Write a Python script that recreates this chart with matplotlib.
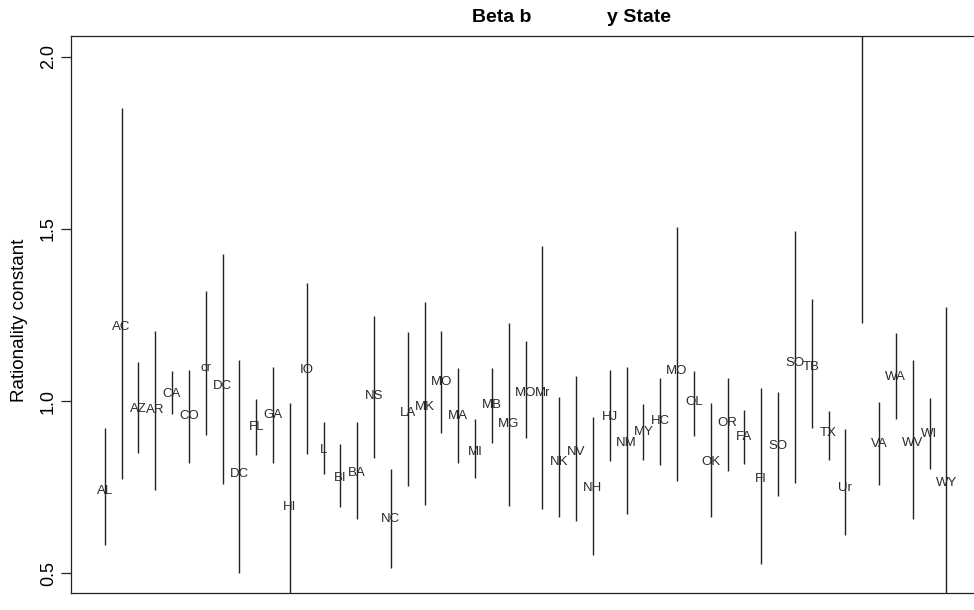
import matplotlib
matplotlib.use("Agg")
import matplotlib.pyplot as plt
import numpy as np

plt.rcParams['font.family'] = ['Liberation Sans', 'DejaVu Sans']

# state labels as printed in the chart (one entry has no visible label)
states = ["AL", "AC", "AZ", "AR", "CA", "CO", "cr", "DC", "DC", "FL",
          "GA", "HI", "IO", "L", "BI", "BA", "NS", "NC", "LA", "MK",
          "MO", "MA", "MI", "MB", "MG", "MO", "Mr", "NK", "NV", "NH",
          "HJ", "NM", "MY", "HC", "MO", "OL", "OK", "OR", "FA", "FI",
          "SO", "SO", "TB", "TX", "Ur", "", "VA", "WA", "WV", "WI", "WY"]

# point estimates (label positions)
estimate = [0.738, 1.215, 0.977, 0.975, 1.020, 0.956, 1.095, 1.044, 0.788, 0.925,
            0.959, 0.692, 1.090, 0.858, 0.777, 0.790, 1.015, 0.657, 0.966, 0.983,
            1.056, 0.957, 0.853, 0.987, 0.932, 1.024, 1.024, 0.823, 0.853, 0.748,
            0.954, 0.878, 0.910, 0.942, 1.088, 0.998, 0.823, 0.935, 0.895, 0.772,
            0.870, 1.110, 1.098, 0.906, 0.748, np.nan, 0.875, 1.070, 0.877, 0.904, 0.761]

# interval lower bounds
lower = [0.581, 0.773, 0.849, 0.741, 0.961, 0.820, 0.901, 0.759, 0.500, 0.843,
         0.819, 0.400, 0.845, 0.787, 0.692, 0.656, 0.835, 0.516, 0.753, 0.698,
         0.906, 0.820, 0.776, 0.879, 0.694, 0.892, 0.685, 0.664, 0.652, 0.552,
         0.826, 0.673, 0.830, 0.814, 0.768, 0.899, 0.662, 0.797, 0.816, 0.525,
         0.724, 0.761, 0.923, 0.828, 0.610, 1.228, 0.756, 0.947, 0.656, 0.802, 0.400]

# interval upper bounds
upper = [0.921, 1.852, 1.113, 1.204, 1.088, 1.090, 1.320, 1.427, 1.119, 1.006,
         1.099, 0.995, 1.343, 0.940, 0.875, 0.939, 1.247, 0.802, 1.200, 1.288,
         1.204, 1.095, 0.948, 1.095, 1.226, 1.174, 1.450, 1.011, 1.074, 0.954,
         1.090, 1.100, 0.990, 1.066, 1.507, 1.088, 0.993, 1.066, 0.973, 1.039,
         1.027, 1.494, 1.297, 0.971, 0.918, 2.300, 0.997, 1.197, 1.119, 1.009, 1.273]

x = np.arange(1, len(states) + 1)

W, H = 974, 610
fig = plt.figure(figsize=(W / 100, H / 100), dpi=100)
# plot region runs slightly past the right edge of the picture
ax = fig.add_axes([71 / W, (H - 593) / H, (980 - 71) / W, (593 - 36) / H])

ax.vlines(x, lower, upper, color="#222222", linewidth=1.0)
for xi, est, lab in zip(x, estimate, states):
    if lab:
        ax.text(xi, est, lab, ha="center", va="center", fontsize=9.5, color="#2a2a2a")

ax.set_xlim(-1, 53)
ax.set_ylim(0.442, 2.061)
ax.set_xticks([])
ax.set_yticks([0.5, 1.0, 1.5, 2.0])
ax.set_yticklabels(["0.5", "1.0", "1.5", "2.0"], rotation=90, va="center", fontsize=13)
ax.tick_params(axis="y", direction="out", length=7, width=0.9, pad=3, color="#222222")
for sp in ax.spines.values():
    sp.set_linewidth(0.9)
    sp.set_color("#222222")

ax.set_ylabel("Rationality constant", fontsize=13.5)
ax.yaxis.set_label_coords(-0.047, 0.49)

fig.text(472 / W, 1 - 17 / H, "Beta b", ha="left", va="center", fontsize=14, fontweight="bold")
fig.text(607 / W, 1 - 17 / H, "y State", ha="left", va="center", fontsize=14, fontweight="bold")

fig.savefig("out.png", dpi=100)
